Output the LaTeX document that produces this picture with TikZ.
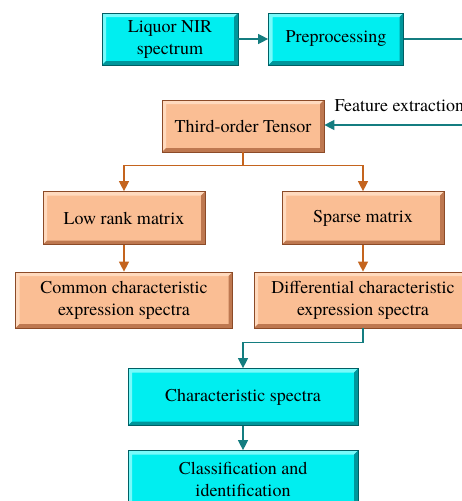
\documentclass[tikz,border=0pt]{standalone}
\usepackage{fontspec}
\setmainfont{texgyretermes}[Extension=.otf, UprightFont=*-regular, BoldFont=*-bold]
\usetikzlibrary{arrows.meta}
\definecolor{cyanbox}{RGB}{0,238,240}
\definecolor{cyanedge}{RGB}{0,95,100}
\definecolor{cyanlight}{RGB}{120,250,250}
\definecolor{cyandark}{RGB}{0,150,155}
\definecolor{peachbox}{RGB}{250,190,148}
\definecolor{peachedge}{RGB}{140,75,40}
\definecolor{peachlight}{RGB}{255,218,190}
\definecolor{peachdark}{RGB}{190,120,80}
\definecolor{tealline}{RGB}{20,125,128}
\definecolor{rustline}{RGB}{196,100,30}
\begin{document}
\begin{tikzpicture}[x=1pt,y=-1pt,font=\fontsize{18}{22}\selectfont]
        \tikzstyle{bevel}=[align=center, inner sep=0pt, line width=0.7pt,
            path picture={
                \fill[\pgfkeysvalueof{/tikz/lightcol}] (path picture bounding box.north west) -- (path picture bounding box.north east) -- ++(-4pt,-4pt) -| ([shift={(4pt,4pt)}]path picture bounding box.south west) -- (path picture bounding box.south west) -- cycle;
                \fill[\pgfkeysvalueof{/tikz/darkcol}] (path picture bounding box.south west) -- (path picture bounding box.south east) -- (path picture bounding box.north east) -- ++(-4pt,-4pt) |- ([shift={(4pt,4pt)}]path picture bounding box.south west) -- cycle;
            }]
        \tikzset{lightcol/.initial=white, darkcol/.initial=black}
        \tikzstyle{cyanblock}=[bevel, fill=cyanbox, draw=cyanedge, lightcol=cyanlight, darkcol=cyandark]
        \tikzstyle{peachblock}=[bevel, fill=peachbox, draw=peachedge, lightcol=peachlight, darkcol=peachdark]
        \tikzstyle{tealarrow}=[draw=tealline, line width=1.3pt, -{Triangle[length=10pt,width=10pt]}]
        \tikzstyle{rustarrow}=[draw=rustline, line width=1.3pt, -{Triangle[length=10pt,width=10pt]}]

        \path[use as bounding box, clip] (0,0) rectangle (462,501);

        \node[cyanblock, minimum width=136pt, minimum height=52pt] (liquor) at (170,39) {Liquor NIR\\spectrum};
        \node[cyanblock, minimum width=135pt, minimum height=52pt] (prep) at (336,39) {Preprocessing};
        \node[peachblock, minimum width=162pt, minimum height=52pt] (tensor) at (243,126) {Third-order Tensor};
        \node[anchor=west] (featlbl) at (331,106) {Feature extraction};
        \node[peachblock, minimum width=162pt, minimum height=53pt] (lowrank) at (124,218) {Low rank matrix};
        \node[peachblock, minimum width=162pt, minimum height=53pt] (sparse) at (363,218) {Sparse matrix};
        \node[peachblock, minimum width=217pt, minimum height=56pt] (common) at (124,300) {Common characteristic\\expression spectra};
        \node[peachblock, minimum width=218pt, minimum height=56pt] (diff) at (363,300) {Differential characteristic\\expression spectra};
        \node[cyanblock, minimum width=230pt, minimum height=57pt] (charspec) at (243,397) {Characteristic spectra};
        \node[cyanblock, minimum width=230pt, minimum height=57pt] (classif) at (243,479) {Classification and\\identification};

        \coordinate (prepout) at (475,39);
        \coordinate (featin) at (475,125);

        \draw[tealarrow] (liquor) -- (prep);
        \draw[draw=tealline, line width=1.3pt] (prep) -- (prepout);
        \draw[tealarrow] (featin) -- (tensor.east |- featin);
        \draw[rustarrow] (tensor.south) -- ++(0,13) -| (lowrank.north);
        \draw[rustarrow] (tensor.south) -- ++(0,13) -| (sparse.north);
        \draw[rustarrow] (lowrank) -- (common);
        \draw[rustarrow] (sparse) -- (diff);
        \draw[tealarrow] (diff.south) -- ++(0,14) -| (charspec.north);
        \draw[tealarrow] (charspec) -- (classif);
    \end{tikzpicture}
\end{document}
